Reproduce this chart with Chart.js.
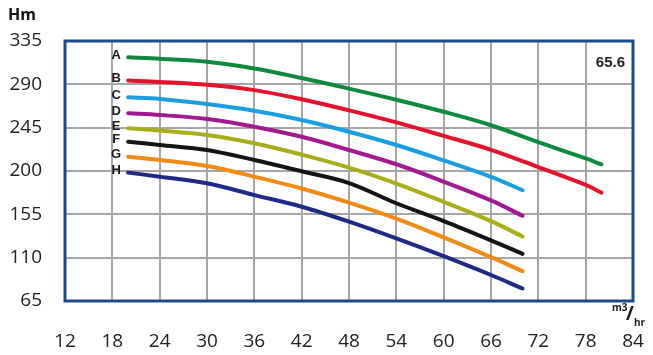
<!DOCTYPE html>
<html>
<head>
<meta charset="utf-8">
<script src="https://cdn.jsdelivr.net/npm/chart.js@4/dist/chart.umd.min.js"></script>
<style>
html,body{margin:0;padding:0;background:#fff;}
#wrap{position:relative;width:653px;height:355px;}
</style>
</head>
<body>
<div id="wrap"><canvas id="c" width="653" height="355"></canvas></div>
<script>
// Flow (m3/hr) sample points
const flowAB = [20, 24, 30, 36, 42, 48, 54, 60, 66, 72, 78, 80];
const flowCH = [20, 24, 30, 36, 42, 48, 54, 60, 66, 70];
// Head (Hm) per curve
const headA = [318, 316.5, 313.5, 306.5, 296.5, 285.5, 274, 261.5, 247.5, 230, 213, 207];
const headB = [294, 292.5, 289.5, 284, 274.5, 263, 250.5, 236.5, 222, 204, 185.5, 177.5];
const headC = [276.5, 274.8, 269.6, 262.6, 253, 240.8, 227, 211, 194, 180];
const headD = [260, 258.2, 254, 246, 235.5, 221.8, 207, 189, 169.5, 153.5];
const headE = [244.3, 242, 237.4, 228.8, 217, 203.5, 187, 168, 148, 132];
const headF = [230.4, 227, 221.8, 211.4, 199.7, 187.5, 166.5, 148, 128, 114];
const headG = [214.9, 211.4, 205.2, 194.1, 181.8, 167.1, 150.5, 131, 110.5, 96];
const headH = [198.3, 194.1, 187.2, 175, 162.9, 147.4, 130, 111.5, 92, 78];
const curveLabels = ['A', 'B', 'C', 'D', 'E', 'F', 'G', 'H'];
const curveColors = ['#0e8a3e', '#e4122a', '#1a9ee0', '#a3198f', '#a8ae1a', '#141414', '#f28a14', '#1e2a86'];
const xTicks = [12, 18, 24, 30, 36, 42, 48, 54, 60, 66, 72, 78, 84];
const yTicks = [65, 110, 155, 200, 245, 290, 335];
const yTitle = 'Hm';
const modelText = '65.6';

const heads = [headA, headB, headC, headD, headE, headF, headG, headH];
const flows = [flowAB, flowAB, flowCH, flowCH, flowCH, flowCH, flowCH, flowCH];

const datasets = heads.map((h, i) => ({
  label: curveLabels[i],
  data: h.map((v, j) => ({x: flows[i][j], y: v})),
  borderColor: curveColors[i],
  backgroundColor: curveColors[i],
  borderWidth: 4,
  pointRadius: 0,
  tension: 0.35,
  borderCapStyle: 'round',
  fill: false
}));

const FONT = '"Open Sans", "Liberation Sans", sans-serif';

const framePlugin = {
  id: 'frame',
  beforeDatasetsDraw(chart) {
    const {ctx, chartArea: a} = chart;
    ctx.save();
    ctx.strokeStyle = '#1b4a8a';
    ctx.lineWidth = 3;
    ctx.strokeRect(a.left, a.top, a.right - a.left, a.bottom - a.top);
    ctx.restore();
  },
  afterDatasetsDraw(chart) {
    const {ctx} = chart;
    const xs = chart.scales.x, ys = chart.scales.y;
    ctx.save();
    ctx.fillStyle = '#1a1a1a';
    ctx.font = 'bold 13px "Liberation Sans", Arial, sans-serif';
    ctx.textAlign = 'center';
    ctx.textBaseline = 'middle';
    heads.forEach((h, i) => {
      const px = xs.getPixelForValue(flows[i][0]) - 12;
      const py = ys.getPixelForValue(h[0]) - 2;
      ctx.fillText(curveLabels[i], px, py);
    });
    // model text
    ctx.font = 'bold 15px "Liberation Sans", Arial, sans-serif';
    ctx.fillStyle = '#222';
    ctx.textAlign = 'right';
    ctx.fillText(modelText, chart.chartArea.right - 8, chart.chartArea.top + 22);
    // y title
    ctx.font = 'bold 16px "Open Sans", "Liberation Sans", sans-serif';
    ctx.textAlign = 'left';
    ctx.fillStyle = '#111';
    ctx.fillText(yTitle, 8, 15);
    // unit label
    const ux = chart.chartArea.right - 21, uy = chart.chartArea.bottom + 7;
    ctx.font = 'bold 10px "Open Sans", "Liberation Sans", sans-serif';
    ctx.fillStyle = '#1a1a1a';
    ctx.textAlign = 'left';
    ctx.fillText('m3', ux, uy);
    ctx.font = 'bold 19px "Open Sans", "Liberation Sans", sans-serif';
    ctx.fillText('/', ux + 14, uy + 7);
    ctx.font = 'bold 10px "Open Sans", "Liberation Sans", sans-serif';
    ctx.fillText('hr', ux + 22, uy + 15);
    ctx.restore();
  }
};

new Chart(document.getElementById('c'), {
  type: 'line',
  data: {datasets},
  options: {
    responsive: false,
    animation: false,
    layout: {padding: {top: 41, right: 20, left: 0, bottom: 0}},
    plugins: {legend: {display: false}, tooltip: {enabled: false}},
    scales: {
      x: {
        type: 'linear',
        min: xTicks[0], max: xTicks[xTicks.length - 1],
        afterBuildTicks(s) { s.ticks = xTicks.map(v => ({value: v})); },
        afterFit(s) { s.height = 54; s.paddingRight = 0; s.paddingLeft = 0; },
        grid: {color: '#a6a6a6', lineWidth: 2, drawTicks: false},
        border: {display: false},
        ticks: {color: '#222', font: {family: FONT, size: 19}, padding: 29, maxRotation: 0, autoSkip: false}
      },
      y: {
        type: 'linear',
        min: yTicks[0], max: yTicks[yTicks.length - 1],
        afterBuildTicks(s) { s.ticks = yTicks.map(v => ({value: v})); },
        afterFit(s) { s.width = 65; s.paddingTop = 0; s.paddingBottom = 0; },
        grid: {color: '#a6a6a6', lineWidth: 2, drawTicks: false},
        border: {display: false},
        ticks: {color: '#222', font: {family: FONT, size: 19}, padding: 23}
      }
    }
  },
  plugins: [framePlugin]
});
</script>
</body>
</html>
